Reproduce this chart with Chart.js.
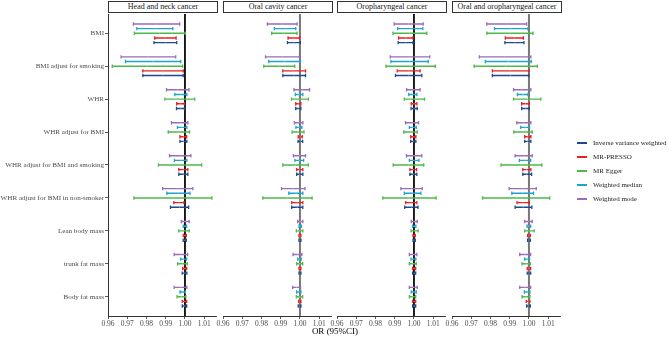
<!DOCTYPE html>
<html>
<head>
<meta charset="utf-8">
<title>Forest plot</title>
<script src="https://cdn.jsdelivr.net/npm/chart.js@4.4.1/dist/chart.umd.min.js"></script>
<style>
  body { margin: 0; background: #fff; }
  #wrap { position: relative; width: 669px; height: 337px; overflow: hidden;
          font-family: "Liberation Serif", "Times New Roman", serif; }
  canvas { position: absolute; top: 0; }
  .head { position: absolute; top: 1px; height: 12px; box-sizing: border-box; border: 1px solid #333;
          background: #fff; font-size: 8px; line-height: 10px; text-align: center; color: #1a1a1a; }
  .leg { position: absolute; left: 577px; height: 10px; font-size: 7px; line-height: 10px; color: #1a1a1a; }
  .leg i { position: absolute; left: 0; top: 4px; width: 10px; height: 2px; }
  .leg span { position: absolute; left: 16px; white-space: nowrap; }
  #xtitle { position: absolute; left: 285px; width: 100px; top: 326px; text-align: center;
            font-size: 9px; color: #000; }
</style>
</head>
<body>
<div id="wrap"></div>
<script>
// exposures (top to bottom)
const categories = ['BMI', 'BMI adjust for smoking', 'WHR', 'WHR adjust for BMI',
  'WHR adjust for BMI and smoking', 'WHR adjust for BMI in non-smoker',
  'Lean body mass', 'trunk fat mass', 'Body fat mass'];
const methods = ['Inverse variance weighted', 'MR-PRESSO', 'MR Egger', 'Weighted median', 'Weighted mode'];
const methodColors = ['#1b4a8e', '#ee1d1d', '#4cb94a', '#1ba5c9', '#9b6bb8'];
const panelTitles = ['Head and neck cancer', 'Oral cavity cancer', 'Oropharyngeal cancer', 'Oral and oropharyngeal cancer'];
const xTicks = [0.96, 0.97, 0.98, 0.99, 1.00, 1.01];

// [lower, OR, upper] per exposure
const hn_ivw = [[0.9839,0.9899,0.9957],[0.9781,0.9885,0.9991],[0.9956,0.9978,0.9998],[0.9974,0.9992,1.0010],[0.9968,0.9991,1.0015],[0.9925,0.9971,1.0019],[0.9991,0.9999,1.0007],[0.9986,0.9998,1.0010],[0.9986,0.9997,1.0009]];
const hn_presso = [[0.9843,0.9897,0.9954],[0.9781,0.9885,0.9991],[0.9957,0.9978,0.9997],[0.9974,0.9991,1.0009],[0.9968,0.9991,1.0015],[0.9942,0.9968,0.9995],[0.9991,0.9999,1.0007],[0.9988,0.9998,1.0009],[0.9986,0.9997,1.0009]];
const hn_egger = [[0.9737,0.9867,1.0002],[0.9622,0.9803,0.9988],[0.9896,0.9974,1.0051],[0.9913,0.9968,1.0024],[0.9862,0.9974,1.0087],[0.9735,0.9938,1.0140],[0.9968,0.9995,1.0022],[0.9962,0.9987,1.0012],[0.9959,0.9982,1.0005]];
const hn_wmedian = [[0.9750,0.9844,0.9937],[0.9691,0.9834,0.9978],[0.9947,0.9979,1.0010],[0.9961,0.9985,1.0010],[0.9945,0.9978,1.0010],[0.9906,0.9966,1.0026],[0.9991,1.0000,1.0009],[0.9978,0.9993,1.0009],[0.9974,0.9988,1.0002]];
const hn_wmode = [[0.9732,0.9851,0.9973],[0.9668,0.9810,0.9952],[0.9904,0.9962,1.0021],[0.9930,0.9973,1.0015],[0.9920,0.9976,1.0031],[0.9884,0.9962,1.0041],[0.9981,1.0002,1.0022],[0.9944,0.9978,1.0014],[0.9944,0.9977,1.0010]];

const oc_ivw = [[0.9935,0.9968,1.0002],[0.9911,0.9969,1.0029],[0.9978,0.9991,1.0005],[0.9990,1.0002,1.0014],[0.9983,0.9999,1.0015],[0.9957,0.9986,1.0015],[0.9995,1.0000,1.0005],[0.9995,1.0000,1.0005],[0.9991,0.9998,1.0005]];
const oc_presso = [[0.9938,0.9968,0.9998],[0.9911,0.9969,1.0029],[0.9978,0.9991,1.0005],[0.9991,1.0002,1.0012],[0.9983,0.9999,1.0015],[0.9957,0.9986,1.0015],[0.9995,1.0000,1.0005],[0.9995,1.0000,1.0005],[0.9993,0.9999,1.0005]];
const oc_egger = [[0.9853,0.9918,0.9985],[0.9812,0.9892,0.9973],[0.9956,1.0000,1.0044],[0.9959,0.9990,1.0021],[0.9911,0.9977,1.0043],[0.9807,0.9935,1.0063],[0.9981,0.9998,1.0015],[0.9983,0.9998,1.0014],[0.9981,0.9998,1.0014]];
const oc_wmedian = [[0.9867,0.9923,0.9978],[0.9838,0.9920,1.0003],[0.9976,0.9995,1.0015],[0.9979,0.9995,1.0010],[0.9974,0.9997,1.0019],[0.9942,0.9979,1.0015],[0.9995,1.0000,1.0007],[0.9988,0.9997,1.0007],[0.9983,0.9994,1.0005]];
const oc_wmode = [[0.9831,0.9908,0.9985],[0.9821,0.9909,0.9997],[0.9969,1.0010,1.0050],[0.9971,0.9993,1.0015],[0.9966,0.9998,1.0029],[0.9904,0.9964,1.0026],[0.9988,1.0002,1.0015],[0.9964,0.9986,1.0010],[0.9962,0.9983,1.0003]];

const op_ivw = [[0.9918,0.9957,0.9995],[0.9904,0.9973,1.0041],[0.9985,1.0000,1.0017],[0.9983,0.9997,1.0010],[0.9979,0.9997,1.0015],[0.9952,0.9986,1.0021],[0.9995,1.0001,1.0007],[0.9993,1.0001,1.0009],[0.9993,1.0001,1.0009]];
const op_presso = [[0.9920,0.9957,0.9995],[0.9913,0.9973,1.0032],[0.9986,1.0000,1.0015],[0.9983,0.9997,1.0010],[0.9979,0.9997,1.0014],[0.9957,0.9986,1.0015],[0.9995,1.0001,1.0007],[0.9993,1.0001,1.0009],[0.9993,1.0001,1.0009]];
const op_egger = [[0.9891,0.9978,1.0067],[0.9855,0.9983,1.0111],[0.9950,1.0002,1.0055],[0.9947,0.9982,1.0017],[0.9892,0.9973,1.0051],[0.9838,0.9976,1.0115],[0.9985,1.0003,1.0022],[0.9976,0.9993,1.0012],[0.9976,0.9992,1.0009]];
const op_wmedian = [[0.9915,0.9981,1.0046],[0.9880,0.9978,1.0074],[0.9973,0.9993,1.0015],[0.9976,0.9994,1.0012],[0.9976,1.0000,1.0026],[0.9950,0.9993,1.0036],[0.9993,1.0002,1.0010],[0.9985,0.9997,1.0010],[0.9986,0.9999,1.0012]];
const op_wmode = [[0.9897,0.9973,1.0048],[0.9877,0.9979,1.0082],[0.9962,0.9997,1.0032],[0.9956,0.9990,1.0024],[0.9961,1.0000,1.0041],[0.9932,0.9986,1.0043],[0.9986,1.0002,1.0017],[0.9976,0.9995,1.0015],[0.9976,0.9997,1.0017]];

const oo_ivw = [[0.9875,0.9925,0.9974],[0.9810,0.9904,1.0000],[0.9962,0.9983,1.0002],[0.9978,0.9994,1.0010],[0.9968,0.9988,1.0014],[0.9928,0.9971,1.0015],[0.9993,1.0000,1.0007],[0.9991,1.0000,1.0009],[0.9988,0.9998,1.0007]];
const oo_presso = [[0.9877,0.9925,0.9971],[0.9810,0.9904,1.0000],[0.9962,0.9983,1.0002],[0.9978,0.9994,1.0010],[0.9968,0.9988,1.0010],[0.9938,0.9969,1.0002],[0.9993,1.0000,1.0007],[0.9991,1.0000,1.0009],[0.9986,0.9996,1.0005]];
const oo_egger = [[0.9781,0.9901,1.0021],[0.9715,0.9880,1.0044],[0.9920,0.9991,1.0062],[0.9921,0.9969,1.0017],[0.9855,0.9961,1.0067],[0.9759,0.9933,1.0108],[0.9978,1.0002,1.0027],[0.9964,0.9985,1.0007],[0.9964,0.9985,1.0005]];
const oo_wmedian = [[0.9821,0.9906,0.9995],[0.9773,0.9892,1.0012],[0.9940,0.9968,0.9995],[0.9957,0.9981,1.0003],[0.9950,0.9979,1.0009],[0.9911,0.9968,1.0024],[0.9990,0.9998,1.0009],[0.9978,0.9990,1.0003],[0.9976,0.9990,1.0005]];
const oo_wmode = [[0.9781,0.9884,0.9988],[0.9742,0.9875,1.0010],[0.9920,0.9964,1.0010],[0.9937,0.9974,1.0010],[0.9928,0.9973,1.0017],[0.9897,0.9968,1.0038],[0.9978,0.9997,1.0017],[0.9952,0.9979,1.0009],[0.9952,0.9979,1.0009]];

const panelData = [
  [hn_ivw, hn_presso, hn_egger, hn_wmedian, hn_wmode],
  [oc_ivw, oc_presso, oc_egger, oc_wmedian, oc_wmode],
  [op_ivw, op_presso, op_egger, op_wmedian, op_wmode],
  [oo_ivw, oo_presso, oo_egger, oo_wmedian, oo_wmode]
];

// layout
const panelLeft = [108, 223, 337, 452];
const panelW = 110;
const yMin = 0.415, yMax = 9.585;
const rowOffset = [0.283, 0.1415, 0, -0.1415, -0.283];
const refColor = ['#000', '#777', '#000', '#777'];
const refWidth = [1, 2, 1, 2];
const serif = '"Liberation Serif", "Times New Roman", serif';

const wrap = document.getElementById('wrap');

function buildDatasets(p) {
  const sets = [];
  panelData[p].forEach((rows, m) => {
    const pts = [];
    rows.forEach((r, i) => {
      const y = i + 1 + rowOffset[m];
      pts.push({ x: r[0], y }, { x: r[1], y }, { x: r[2], y }, { x: NaN, y: NaN });
    });
    const c = methodColors[m];
    sets.push({
      data: pts, showLine: true, spanGaps: false,
      borderColor: c, borderWidth: 1.4,
      pointStyle: ctx => (ctx.dataIndex % 4 === 1 ? 'circle' : 'line'),
      pointRotation: 90,
      pointRadius: ctx => (ctx.dataIndex % 4 === 1 ? 0.7 : 1.7),
      pointBorderWidth: ctx => (ctx.dataIndex % 4 === 1 ? 0 : 1.3),
      pointBorderColor: c,
      pointBackgroundColor: 'rgba(255,255,255,0.3)'
    });
  });
  sets.push({
    data: [{ x: 1, y: yMin }, { x: 1, y: yMax }], showLine: true,
    borderColor: refColor[p], borderWidth: refWidth[p], pointRadius: 0
  });
  return sets;
}

panelTitles.forEach((title, p) => {
  const first = p === 0;
  const cvLeft = first ? 0 : panelLeft[p] - 8;
  const cvW = first ? panelLeft[0] + panelW + 4 : panelW + 12;
  const cv = document.createElement('canvas');
  cv.width = cvW; cv.height = 337;
  cv.style.left = cvLeft + 'px';
  cv.style.width = cvW + 'px'; cv.style.height = '337px';
  wrap.appendChild(cv);

  new Chart(cv, {
    type: 'scatter',
    data: { datasets: buildDatasets(p) },
    options: {
      responsive: false, animation: false, devicePixelRatio: 1,
      layout: { padding: { left: first ? 0 : 8, right: 4, top: 14, bottom: 0 } },
      plugins: { legend: { display: false }, tooltip: { enabled: false } },
      scales: {
        x: {
          type: 'linear', min: 0.96, max: 1.0165,
          afterBuildTicks: s => { s.ticks = xTicks.map(v => ({ value: v })); },
          afterFit: s => { s.height = 21; },
          ticks: { callback: v => v.toFixed(2), color: '#4d4d4d', padding: 1,
                   maxRotation: 0, autoSkip: false, font: { family: serif, size: 7.5 } },
          grid: { drawOnChartArea: false, drawTicks: true, tickLength: 3, color: '#333', lineWidth: 0.8 },
          border: { display: true, color: '#333', width: 1 }
        },
        y: {
          type: 'linear', reverse: true, min: yMin, max: yMax, display: first,
          afterBuildTicks: s => { s.ticks = categories.map((c, i) => ({ value: i + 1 })); },
          afterFit: s => { if (first) s.width = panelLeft[0]; },
          ticks: { callback: v => categories[v - 1], color: '#4d4d4d', padding: 1,
                   autoSkip: false, font: { family: serif, size: 7.1 } },
          grid: { drawOnChartArea: false, drawTicks: true, tickLength: 3, color: '#333', lineWidth: 0.8 },
          border: { display: true, color: '#333', width: 1 }
        }
      }
    }
  });

  const h = document.createElement('div');
  h.className = 'head';
  h.style.left = panelLeft[p] + 'px';
  h.style.width = panelW + 'px';
  h.textContent = title;
  wrap.appendChild(h);
});

// legend
const legendTop = [138, 152, 166, 180, 194];
methods.forEach((name, m) => {
  const d = document.createElement('div');
  d.className = 'leg';
  d.style.top = legendTop[m] + 'px';
  d.innerHTML = '<i style="background:' + methodColors[m] + '"></i><span>' + name + '</span>';
  wrap.appendChild(d);
});

const xt = document.createElement('div');
xt.id = 'xtitle';
xt.textContent = 'OR (95%CI)';
wrap.appendChild(xt);
</script>
</body>
</html>
